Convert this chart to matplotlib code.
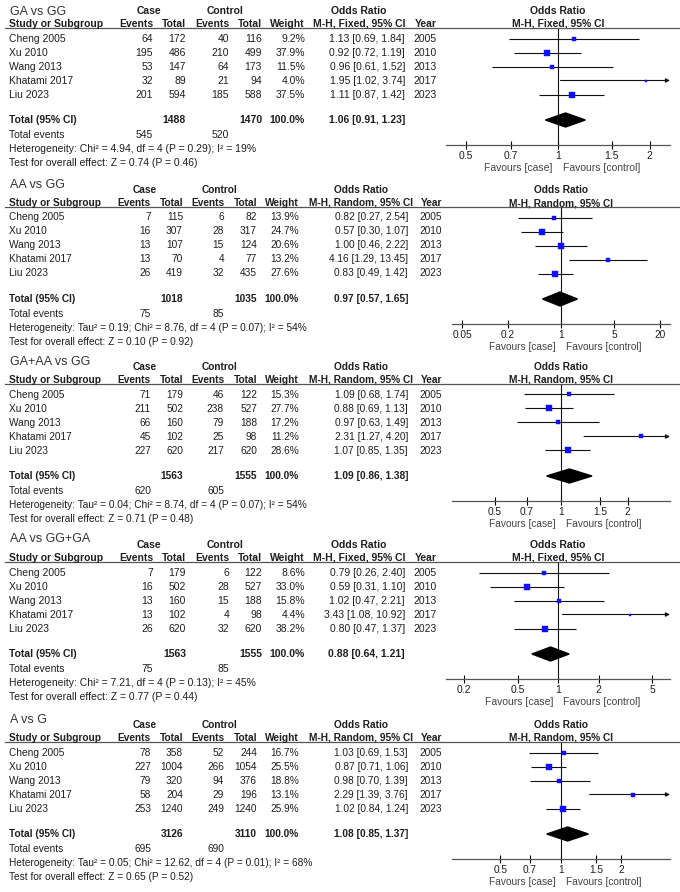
import numpy as np
import matplotlib.pyplot as plt

plt.rcParams['font.family'] = ['Liberation Sans', 'DejaVu Sans']

W, H = 680, 892

# ---- data ----
studies = ['Cheng 2005', 'Xu 2010', 'Wang 2013', 'Khatami 2017', 'Liu 2023']
years = ['2005', '2010', '2013', '2017', '2023']
titles = ['GA vs GG', 'AA vs GG', 'GA+AA vs GG', 'AA vs GG+GA', 'A vs G']
methods = ['Fixed', 'Random', 'Random', 'Fixed', 'Random']

case_events = [[64, 195, 53, 32, 201], [7, 16, 13, 13, 26], [71, 211, 66, 45, 227],
               [7, 16, 13, 13, 26], [78, 227, 79, 58, 253]]
case_total = [[172, 486, 147, 89, 594], [115, 307, 107, 70, 419], [179, 502, 160, 102, 620],
              [179, 502, 160, 102, 620], [358, 1004, 320, 204, 1240]]
ctrl_events = [[40, 210, 64, 21, 185], [6, 28, 15, 4, 32], [46, 238, 79, 25, 217],
               [6, 28, 15, 4, 32], [52, 266, 94, 29, 249]]
ctrl_total = [[116, 499, 173, 94, 588], [82, 317, 124, 77, 435], [122, 527, 188, 98, 620],
              [122, 527, 188, 98, 620], [244, 1054, 376, 196, 1240]]
weights = [[9.2, 37.9, 11.5, 4.0, 37.5], [13.9, 24.7, 20.6, 13.2, 27.6], [15.3, 27.7, 17.2, 11.2, 28.6],
           [8.6, 33.0, 15.8, 4.4, 38.2], [16.7, 25.5, 18.8, 13.1, 25.9]]
odds = [[1.13, 0.92, 0.96, 1.95, 1.11], [0.82, 0.57, 1.00, 4.16, 0.83], [1.09, 0.88, 0.97, 2.31, 1.07],
        [0.79, 0.59, 1.02, 3.43, 0.80], [1.03, 0.87, 0.98, 2.29, 1.02]]
ci_low = [[0.69, 0.72, 0.61, 1.02, 0.87], [0.27, 0.30, 0.46, 1.29, 0.49], [0.68, 0.69, 0.63, 1.27, 0.85],
          [0.26, 0.31, 0.47, 1.08, 0.47], [0.69, 0.71, 0.70, 1.39, 0.84]]
ci_high = [[1.84, 1.19, 1.52, 3.74, 1.42], [2.54, 1.07, 2.22, 13.45, 1.42], [1.74, 1.13, 1.49, 4.20, 1.35],
           [2.40, 1.10, 2.21, 10.92, 1.37], [1.53, 1.06, 1.39, 3.76, 1.24]]

pooled_or = [1.06, 0.97, 1.09, 0.88, 1.08]
pooled_low = [0.91, 0.57, 0.86, 0.64, 0.85]
pooled_high = [1.23, 1.65, 1.38, 1.21, 1.37]
total_case = [1488, 1018, 1563, 1563, 3126]
total_ctrl = [1470, 1035, 1555, 1555, 3110]
events_case = [545, 75, 620, 75, 695]
events_ctrl = [520, 85, 605, 85, 690]

tau2 = [None, '0.19', '0.04', None, '0.05']
chi2 = ['4.94', '8.76', '8.74', '7.21', '12.62']
het_p = ['0.29', '0.07', '0.07', '0.13', '0.01']
i2 = [19, 54, 54, 45, 68]
z_val = ['0.74', '0.10', '0.71', '0.77', '0.65']
z_p = ['0.46', '0.92', '0.48', '0.44', '0.52']

x_ticks = [[0.5, 0.7, 1, 1.5, 2], [0.05, 0.2, 1, 5, 20], [0.5, 0.7, 1, 1.5, 2],
           [0.2, 0.5, 1, 2, 5], [0.5, 0.7, 1, 1.5, 2]]
x_limits = [(0.43, 2.33), (0.0365, 27.4), (0.321, 3.11), (0.147, 6.8), (0.287, 3.49)]

# ---- layout ----
line_y = [28, 207, 384, 562, 742]   # header separator of each panel (pixels from top)
title_off = [16, 22, 22, 23, 22]
cols = {
    'Fixed': dict(ce=153, ct=186, ke=229, kt=262, w=305, orr=405, yr=437,
                  case_c=149, ctrl_c=225, or_c=359, fs=7.5, ax0=446),
    'Random': dict(ce=151, ct=183, ke=224, kt=257, w=299, orr=408, yr=442,
                   case_c=145, ctrl_c=220, or_c=361, fs=7.3, ax0=452),
}
TXT = '#1e1e1e'
GRAY = '#444444'

fig = plt.figure(figsize=(W / 100, H / 100), dpi=100)


def t(x, y, s, **kw):
    kw.setdefault('va', 'center')
    kw.setdefault('color', TXT)
    fig.text(x / W, 1 - y / H, s, **kw)


for p in range(5):
    L = line_y[p]
    c = cols[methods[p]]
    fs = c['fs']
    # header
    t(10, L - title_off[p], titles[p], fontsize=9, color='#333333')
    t(c['case_c'], L - 17, 'Case', fontsize=fs, fontweight='bold', ha='center')
    t(c['ctrl_c'], L - 17, 'Control', fontsize=fs, fontweight='bold', ha='center')
    t(c['or_c'], L - 17, 'Odds Ratio', fontsize=fs, fontweight='bold', ha='center')
    t(9, L - 4, 'Study or Subgroup', fontsize=fs, fontweight='bold')
    t(c['ce'], L - 4, 'Events', fontsize=fs, fontweight='bold', ha='right')
    t(c['ct'], L - 4, 'Total', fontsize=fs, fontweight='bold', ha='right')
    t(c['ke'], L - 4, 'Events', fontsize=fs, fontweight='bold', ha='right')
    t(c['kt'], L - 4, 'Total', fontsize=fs, fontweight='bold', ha='right')
    t(c['w'], L - 4, 'Weight', fontsize=fs, fontweight='bold', ha='right')
    t(c['or_c'], L - 4, 'M-H, %s, 95%% CI' % methods[p], fontsize=fs, fontweight='bold', ha='center')
    t(c['yr'], L - 4, 'Year', fontsize=fs, fontweight='bold', ha='right')
    fig.add_artist(plt.Line2D([5 / W, 1], [1 - L / H, 1 - L / H], color='#555555', lw=0.9))

    row_y = [L + 10.5 + 14 * i for i in range(len(studies))]
    for i in range(len(studies)):
        y = row_y[i]
        t(9, y, studies[i], fontsize=fs)
        t(c['ce'], y, str(case_events[p][i]), fontsize=fs, ha='right')
        t(c['ct'], y, str(case_total[p][i]), fontsize=fs, ha='right')
        t(c['ke'], y, str(ctrl_events[p][i]), fontsize=fs, ha='right')
        t(c['kt'], y, str(ctrl_total[p][i]), fontsize=fs, ha='right')
        t(c['w'], y, '%.1f%%' % weights[p][i], fontsize=fs, ha='right')
        t(c['orr'], y, '%.2f [%.2f, %.2f]' % (odds[p][i], ci_low[p][i], ci_high[p][i]),
          fontsize=fs, ha='right')
        t(c['yr'], y, years[i], fontsize=fs, ha='right')

    ty = L + 92
    t(9, ty, 'Total (95% CI)', fontsize=fs, fontweight='bold')
    t(c['ct'], ty, str(total_case[p]), fontsize=fs, fontweight='bold', ha='right')
    t(c['kt'], ty, str(total_ctrl[p]), fontsize=fs, fontweight='bold', ha='right')
    t(c['w'], ty, '100.0%', fontsize=fs, fontweight='bold', ha='right')
    t(c['orr'], ty, '%.2f [%.2f, %.2f]' % (pooled_or[p], pooled_low[p], pooled_high[p]),
      fontsize=fs, fontweight='bold', ha='right')
    t(9, L + 107, 'Total events', fontsize=fs)
    t(c['ce'], L + 107, str(events_case[p]), fontsize=fs, ha='right')
    t(c['ke'], L + 107, str(events_ctrl[p]), fontsize=fs, ha='right')
    het = 'Heterogeneity: '
    if tau2[p] is not None:
        het += 'Tau² = %s; ' % tau2[p]
    het += 'Chi² = %s, df = 4 (P = %s); I² = %d%%' % (chi2[p], het_p[p], i2[p])
    t(9, L + 121, het, fontsize=fs)
    t(9, L + 135, 'Test for overall effect: Z = %s (P = %s)' % (z_val[p], z_p[p]), fontsize=fs)

    # forest plot
    ax_bottom = L + 117
    x0, x1 = c['ax0'], 670
    ax = fig.add_axes([x0 / W, 1 - ax_bottom / H, (x1 - x0) / W, (ax_bottom - L) / H])
    ax.set_xscale('log')
    lo, hi = x_limits[p]
    ax.set_xlim(lo, hi)
    ax.set_ylim(ax_bottom, L)
    for s in ['top', 'left', 'right']:
        ax.spines[s].set_visible(False)
    ax.spines['bottom'].set_color('#555555')
    ax.spines['bottom'].set_linewidth(0.9)
    ax.set_yticks([])
    ax.set_xticks(x_ticks[p])
    ax.set_xticklabels(['%g' % v for v in x_ticks[p]])
    ax.minorticks_off()
    ax.tick_params(axis='x', direction='inout', length=6, width=0.8, pad=1.5,
                   labelsize=fs, labelcolor=TXT)
    ax.patch.set_alpha(0)
    ax.axvline(1, color='#111111', lw=0.8)

    for i in range(len(studies)):
        y = row_y[i]
        if ci_high[p][i] > hi:
            ax.annotate('', xy=(hi, y), xytext=(ci_low[p][i], y),
                        arrowprops=dict(arrowstyle='-|>', color='#111111', lw=0.8,
                                        mutation_scale=6, shrinkA=0, shrinkB=0))
        else:
            ax.hlines(y, ci_low[p][i], ci_high[p][i], color='#111111', lw=0.8)
        side_px = 1.12 * np.sqrt(weights[p][i])
        ax.plot(odds[p][i], y, marker='s', ms=side_px * 0.72, color='#1010ff',
                mec='#1010ff', mew=0.3, zorder=3)
    ax.fill([pooled_low[p], pooled_or[p], pooled_high[p], pooled_or[p]],
            [ty, ty - 7, ty, ty + 7], color='black', zorder=3)

    ax.annotate('Favours [case]', xy=(1, 0), xycoords=('data', 'axes fraction'),
                xytext=(-5, -23), textcoords='offset pixels', ha='right', va='center',
                fontsize=fs, color=GRAY)
    ax.annotate('Favours [control]', xy=(1, 0), xycoords=('data', 'axes fraction'),
                xytext=(5, -23), textcoords='offset pixels', ha='left', va='center',
                fontsize=fs, color=GRAY)
    ax.annotate('Odds Ratio', xy=(1, 1), xycoords=('data', 'axes fraction'),
                xytext=(0, 17), textcoords='offset pixels', ha='center', va='center',
                fontsize=fs, fontweight='bold', color=TXT)
    ax.annotate('M-H, %s, 95%% CI' % methods[p], xy=(1, 1), xycoords=('data', 'axes fraction'),
                xytext=(0, 4), textcoords='offset pixels', ha='center', va='center',
                fontsize=fs, fontweight='bold', color=TXT)

fig.savefig('out.png', dpi=100, facecolor='white')
